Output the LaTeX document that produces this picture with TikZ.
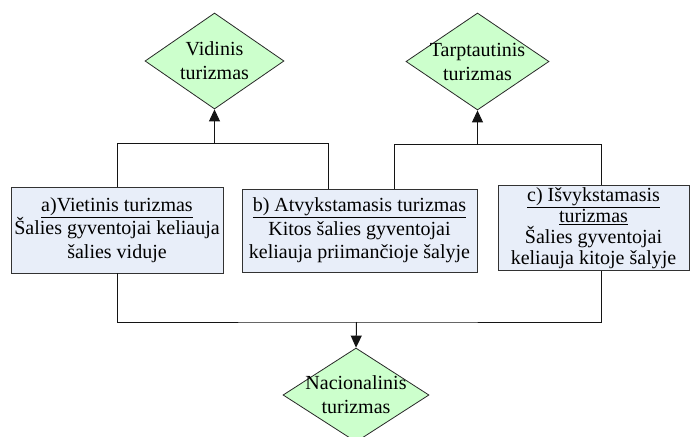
\documentclass[tikz,border=0pt]{standalone}
\usepackage{fontspec}
\setmainfont{Liberation Serif}
\usetikzlibrary{shapes.geometric,arrows.meta}
\begin{document}
\begin{tikzpicture}[x=1pt,y=-1pt,
  every node/.style={font=\fontsize{20}{23.5}\selectfont},
  kind/.style={diamond,draw={rgb,255:red,40;green,40;blue,40},line width=0.8pt,
    fill={rgb,255:red,204;green,255;blue,204},inner sep=0pt,aspect=1.45},
  kindtext/.style={align=center,inner sep=0pt,font=\fontsize{20}{24}\selectfont},
  typebox/.style={rectangle,draw={rgb,255:red,50;green,50;blue,50},line width=0.9pt,
    fill={rgb,255:red,232;green,238;blue,249},inner sep=0pt,align=center},
  wire/.style={line width=1pt,draw={rgb,255:red,20;green,20;blue,20}},
  flow/.style={wire,-{Triangle[length=12pt,width=11pt]}}]
\useasboundingbox (0,0) rectangle (692,436);

% result kinds
\node[kind,minimum width=139pt,minimum height=96pt] (v) at (214.5,61) {};
\node[kindtext] (vt) at (v) {Vidinis\\turizmas};
\node[kind,minimum width=143pt,minimum height=97pt] (t) at (477.5,61.5) {};
\node[kindtext] (tt) at (t) {Tarptautinis\\turizmas};
\node[kind,minimum width=146pt,minimum height=94pt] (n) at (356,395) {};
\node[kindtext] (nt) at (n) {Nacionalinis\\turizmas};

% basic forms
\node[typebox,minimum width=212pt,minimum height=86pt] (a) at (117,230)
  {\underline{a)Vietinis turizmas}\\Šalies gyventojai keliauja\\šalies viduje};
\node[typebox,minimum width=235pt,minimum height=83pt] (b) at (359.5,230.5)
  {\underline{b) Atvykstamasis turizmas}\\Kitos šalies gyventojai\\keliauja priimančioje šalyje};
\node[typebox,minimum width=191pt,minimum height=85pt,
  font=\fontsize{20}{21}\selectfont] (c) at (593.5,228)
  {\underline{c) Išvykstamasis}\\\underline{turizmas}\\Šalies gyventojai\\keliauja kitoje šalyje};

% junction points of the bus lines
\coordinate (j1) at (214.5,143.5);
\coordinate (j2) at (477.5,144.5);
\coordinate (j3) at (356.5,322);

% a + b -> domestic
\draw[wire] (a.north) |- (j1) -| ([xshift=87pt]b.north west);
\draw[flow] (j1) -- (v.south);
% b + c -> international
\draw[wire] ([xshift=153pt]b.north west) |- (j2) -| ([xshift=104pt]c.north west);
\draw[flow] (j2) -- (t.south);
% a + c -> national
\draw[wire] (a.south) |- (j3) -| ([xshift=104pt]c.south west);
\draw[flow] (j3) -- (n.north);
\end{tikzpicture}
\end{document}
